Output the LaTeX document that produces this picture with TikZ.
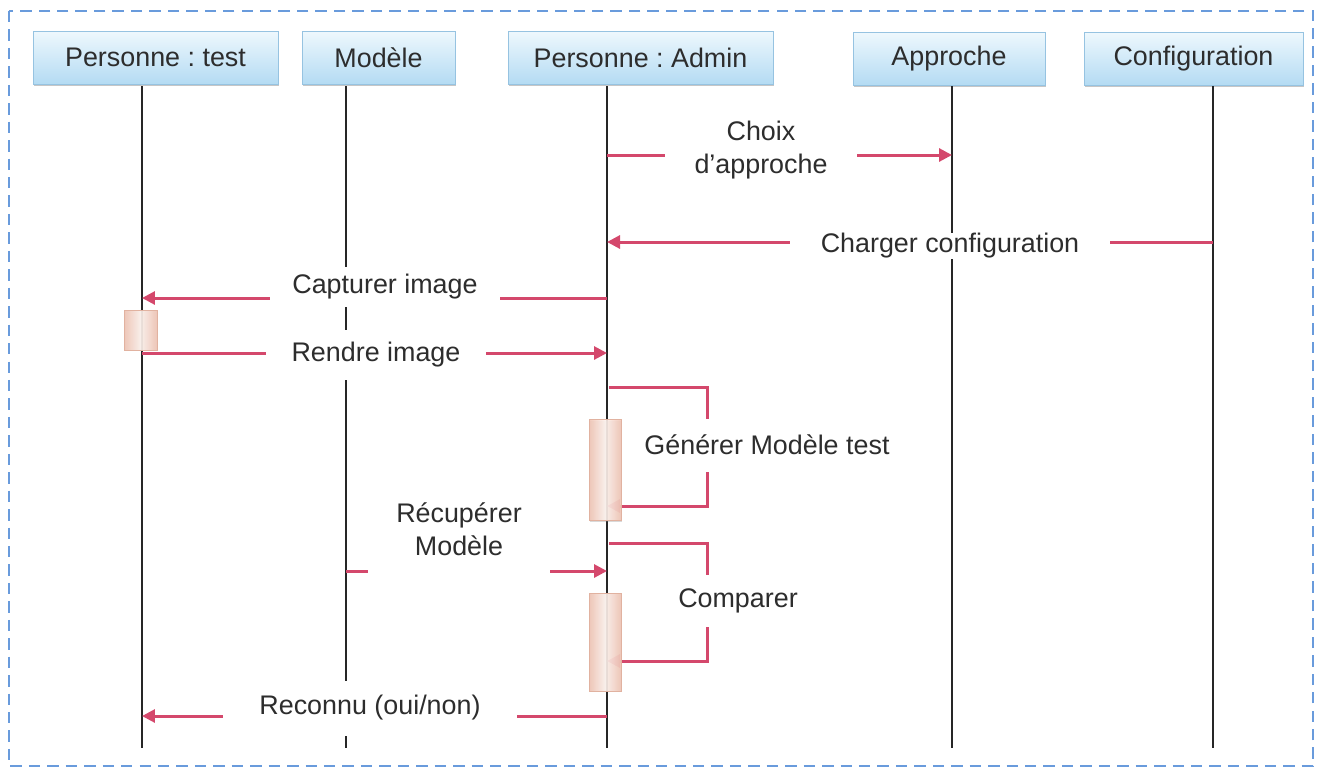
\documentclass[tikz,border=0pt]{standalone}
\usepackage{fontspec}
\setmainfont{Liberation Sans}
\usetikzlibrary{arrows.meta,shadows}
\frenchspacing

\definecolor{msgred}{RGB}{212,72,108}
\definecolor{txtgray}{RGB}{45,45,45}
\definecolor{headtop}{RGB}{238,248,253}
\definecolor{headbot}{RGB}{180,219,243}
\definecolor{headline}{RGB}{150,195,225}
\definecolor{actside}{RGB}{240,196,180}
\definecolor{actmid}{RGB}{253,242,237}
\definecolor{actline}{RGB}{225,178,160}
\definecolor{framecol}{RGB}{105,155,220}

\tikzset{
  head/.style={draw=headline, top color=headtop, bottom color=headbot, text=txtgray,
    minimum height=1.06cm, inner sep=0pt,
    drop shadow={shadow xshift=0.6pt, shadow yshift=-1.4pt, opacity=0.45}},
  life/.style={line width=1.1pt, black!85},
  msg/.style={draw=msgred, line width=1.7pt, -{Triangle[length=2.6mm,width=2.6mm]}},
  lbl/.style={fill=white, inner sep=0pt, align=center, text=txtgray},
  actbox/.style={draw=actline, left color=actside, right color=actside, middle color=actmid,
    minimum width=0.64cm, inner sep=0pt, fill opacity=0.9,
    drop shadow={shadow xshift=0.5pt, shadow yshift=-0.8pt, opacity=0.3}}
}

\begin{document}
\begin{tikzpicture}[x=0.02cm, y=-0.02cm, font=\fontsize{15.3}{18.5}\selectfont]
  \useasboundingbox (0,0) rectangle (1322,772);
  \draw[framecol, line width=1.1pt, dash pattern=on 6.5pt off 4pt] (9,11) rectangle (1313,766);

  \node[head, minimum width=4.9cm]  (test)     at (155.5,57.5) {Personne : test};
  \node[head, minimum width=3.06cm] (modele)   at (378.5,57.5) {Modèle};
  \node[head, minimum width=5.3cm]  (admin)    at (640.5,57.5) {Personne : Admin};
  \node[head, minimum width=3.84cm] (approche) at (949,58.5)   {Approche};
  \node[head, minimum width=4.38cm] (config)   at (1193.5,58.5) {Configuration};

  \foreach \n/\x in {test/142, modele/346, admin/607, approche/952, config/1213}{
    \coordinate (\n-t) at (\x,86);
    \coordinate (\n-b) at (\x,748);
    \draw[life] (\n-t) -- (\n-b);
  }

  \coordinate (m1a) at (607,155);  \coordinate (m1b) at (952,155);
  \coordinate (m2a) at (1213,242); \coordinate (m2b) at (607,242);
  \coordinate (m3a) at (607,298);  \coordinate (m3b) at (142,298);
  \coordinate (m4a) at (142,353);  \coordinate (m4b) at (607,353);
  \coordinate (m5a) at (346,571);  \coordinate (m5b) at (607,571);
  \coordinate (m6a) at (607,716);  \coordinate (m6b) at (142,716);
  \coordinate (s1a) at (609,387);  \coordinate (s1b) at (607,506);
  \coordinate (s2a) at (609,543);  \coordinate (s2b) at (607,661);

  \draw[msg] (m1a) -- (m1b);
  \draw[msg] (m2a) -- (m2b);
  \draw[msg] (m3a) -- (m3b);
  \draw[msg] (m4a) -- (m4b);
  \draw[msg] (m5a) -- (m5b);
  \draw[msg] (m6a) -- (m6b);
  \draw[msg] (s1a) -- ++(98,0) |- (s1b);
  \draw[msg] (s2a) -- ++(98,0) |- (s2b);

  \node[actbox, minimum width=0.66cm, minimum height=0.8cm] (act1) at (140.5,330) {};
  \node[actbox, minimum height=2.02cm] (act2) at (605,470) {};
  \node[actbox, minimum height=1.96cm] (act3) at (605,642) {};

  \node[lbl, minimum width=3.84cm] (l1) at (761,150) {Choix\\d’approche};
  \node[lbl, minimum width=6.4cm] (l2) at (950,246) {Charger configuration};
  \node[lbl, minimum width=4.6cm, minimum height=0.8cm] (l3) at (385,287) {Capturer image};
  \node[lbl, minimum width=4.4cm, minimum height=1.0cm] (l4) at (376,355) {Rendre image};
  \node[lbl, minimum width=3.64cm, minimum height=2.0cm] (l5) at (459,529) {Récupérer\\Modèle};
  \node[lbl, minimum width=5.9cm, minimum height=1.1cm] (l6) at (370,708) {Reconnu (oui/non)};
  \node[lbl, minimum height=1.06cm] (l7) at (767,445) {Générer Modèle test};
  \node[lbl, minimum height=1.04cm] (l8) at (738,601) {Comparer};
\end{tikzpicture}
\end{document}
